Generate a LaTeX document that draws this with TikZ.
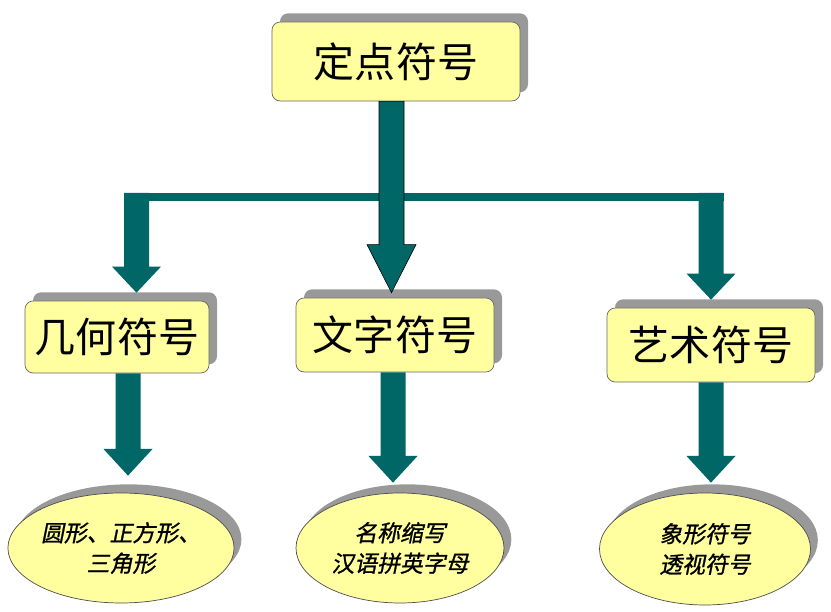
\documentclass[tikz,border=0pt]{standalone}
\usepackage{fontspec}
\usepackage{tikz}
\usetikzlibrary{calc,shapes.geometric,shadows}
\newfontfamily\cjk{Noto Sans CJK SC}
\newfontfamily\cjkit[FakeSlant=0.2,FakeBold=1]{Noto Sans CJK SC}
\definecolor{arrowteal}{HTML}{006666}
\definecolor{boxyellow}{HTML}{FFFF9F}
\definecolor{shadowgray}{HTML}{999999}

\newcommand{\fatarrow}[4][]{%
  \path[fatarrow,#1] let \p1=(#2), \p2=(#3) in
    (\x2-0.375cm,\y1) -- (\x2-0.375cm,\y2+#4) -- (\x2-0.735cm,\y2+#4) -- (\x2,\y2)
    -- (\x2+0.735cm,\y2+#4) -- (\x2+0.375cm,\y2+#4) -- (\x2+0.375cm,\y1) -- cycle;}

\begin{document}
\begin{tikzpicture}[x=0.03cm,y=0.03cm,
    every node/.style={inner sep=0pt},
    box/.style={draw=black!60,fill=boxyellow,rounded corners=7pt,line width=0.6pt,
      drop shadow={shadow xshift=0.24cm,shadow yshift=0.26cm,opacity=1,fill=shadowgray},
      font=\cjk\fontsize{35}{40}\selectfont},
    leaf/.style={ellipse,draw=black!70,fill=boxyellow,line width=0.6pt,align=center,
      drop shadow={shadow xshift=0.22cm,shadow yshift=0.26cm,opacity=1,fill=shadowgray},
      font=\cjkit\fontsize{19.5}{26}\selectfont},
    fatarrow/.style={fill=arrowteal}]
  \useasboundingbox (0,0) rectangle (831,612);
  \node[box,minimum width=7.44cm,minimum height=2.37cm] (dingdian) at (396,550.5) {定点符号};
  \node[box,minimum width=5.52cm,minimum height=2.16cm] (jihe) at (117,275) {几何符号};
  \node[box,minimum width=5.94cm,minimum height=2.22cm] (wenzi) at (395,277) {文字符号};
  \node[box,minimum width=6.24cm,minimum height=2.22cm] (yishu) at (711,267) {艺术符号};
  \node[leaf,minimum width=6.3cm,minimum height=3.3cm] (jiheex) at (121,64) {圆形、正方形、\\三角形};
  \node[leaf,minimum width=6.24cm,minimum height=3.3cm] (wenziex) at (400,64) {名称缩写\\汉语拼英字母};
  \node[leaf,minimum width=6.33cm,minimum height=3.36cm] (yishuex) at (705,63) {象形符号\\透视符号};
  \coordinate (barL) at (136.5,419);
  \coordinate (barR) at (711,419);
  \fill[fatarrow] ($(barL)+(-12.5,0)$) rectangle ($(barR)+(12.5,-8)$);
  \fatarrow{barL}{$(jihe.north)+(19.5,8)$}{0.78cm}
  \fatarrow{barR}{$(yishu.north)+(0,8)$}{0.78cm}
  \fatarrow[draw=black,line width=0.5pt]{dingdian.south}{$(wenzi.north)+(-3.5,5)$}{1.44cm}
  \foreach \a/\b/\dx/\dy in {jihe/jiheex/7/17,wenzi/wenziex/-7/10,yishu/yishuex/6/10} {
    \fatarrow{\a.south}{$(\b.north)+(\dx,\dy)$}{0.8cm}
  }
\end{tikzpicture}
\end{document}
